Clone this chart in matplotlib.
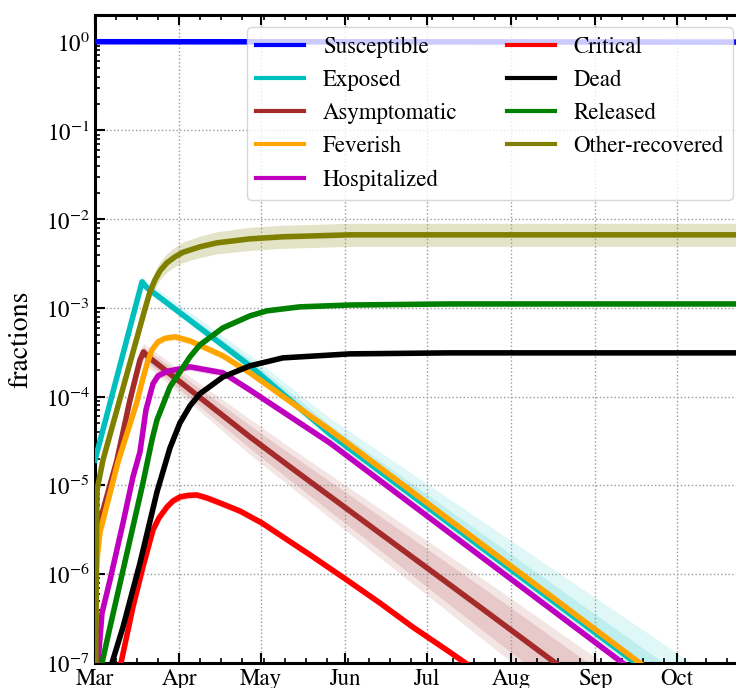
import numpy as np
import matplotlib
matplotlib.use("Agg")
import matplotlib.pyplot as plt
import matplotlib.dates as mdates
from matplotlib.ticker import AutoMinorLocator, LogLocator, NullFormatter
from matplotlib.lines import Line2D
from datetime import datetime

plt.rcParams['font.family'] = 'STIXGeneral'
plt.rcParams['mathtext.fontset'] = 'stix'
plt.rcParams['font.size'] = 16.5

# days since 1 March 2020, fractions of the population

sus_days = [0, 245]
sus_vals = [1.0, 0.99]

exp_days = [0, 17.3, 19.1, 57.0, 86.4, 222.5]
exp_vals = [1.94e-5, 1.97e-3, 1.69e-3, 2.23e-4, 3.81e-5, 2.88e-8]
exp_up_in = [0.02, 0.04, 0.04, 0.07, 0.10, 0.25]
exp_up_out = [0.03, 0.07, 0.07, 0.12, 0.18, 0.48]
exp_dn_in = [0.02, 0.03, 0.03, 0.03, 0.04, 0.06]
exp_dn_out = [0.03, 0.04, 0.04, 0.05, 0.06, 0.10]

asy_days = [0, 0.37, 0.92, 8.09, 12.87, 16.55, 17.83, 19.12, 57.0, 72.0, 141.6, 185.7]
asy_vals = [1e-9, 1.45e-6, 3.15e-6, 1.94e-5, 9.2e-5, 2.6e-4, 3.2e-4, 2.89e-4, 3.53e-5, 1.6e-5, 4.28e-7, 4.25e-8]
asy_in = [0.01, 0.02, 0.03, 0.05, 0.06, 0.06, 0.06, 0.07, 0.13, 0.15, 0.24, 0.28]
asy_out = [0.02, 0.04, 0.05, 0.08, 0.10, 0.10, 0.10, 0.11, 0.20, 0.22, 0.34, 0.40]

fev_days = [0, 0.37, 0.92, 1.84, 8.46, 15.44, 17.28, 19.12, 20.96, 23.17, 25.74, 29.42, 34.93,
            47.07, 57.0, 86.4, 222.5]
fev_vals = [1e-9, 8.6e-7, 1.65e-6, 2.99e-6, 1.84e-5, 8.75e-5, 1.47e-4, 2.34e-4, 3.37e-4, 4.15e-4,
            4.55e-4, 4.73e-4, 4.26e-4, 2.89e-4, 1.86e-4, 4.23e-5, 3.1e-8]

hos_days = [0, 1.1, 2.57, 5.52, 10.30, 13.97, 16.55, 18.75, 21.33, 23.2, 26.47, 34.93, 47.07, 57.0,
            86.4, 222.5]
hos_vals = [1e-9, 1.0e-7, 3.66e-7, 8.6e-7, 3.78e-6, 1.25e-5, 2.39e-5, 7.1e-5, 1.40e-4, 1.72e-4,
            1.93e-4, 2.17e-4, 1.86e-4, 1.19e-4, 3.02e-5, 2.22e-8]

cri_days = [0, 9.56, 13.97, 17.65, 21.33, 23.53, 26.47, 28.68, 31.25, 34.2, 37.5, 41.2, 45.96, 53.3,
            61.4, 80.2, 92.7, 104.8, 116.9, 129.4, 141.6]
cri_vals = [1e-10, 1.0e-7, 4.28e-7, 1.21e-6, 3.15e-6, 4.31e-6, 5.73e-6, 6.70e-6, 7.43e-6, 7.73e-6,
            7.82e-6, 7.24e-6, 6.36e-6, 5.16e-6, 3.78e-6, 1.57e-6, 8.6e-7, 4.75e-7, 2.54e-7, 1.40e-7, 7.7e-8]

dead_days = [0, 6.25, 10.30, 16.55, 22.8, 27.58, 31.25, 34.93, 38.6, 47.07, 57.0, 69.1, 93.8, 130.5, 245]
dead_vals = [1e-10, 1.0e-7, 2.54e-7, 1.34e-6, 8.46e-6, 2.65e-5, 5.07e-5, 7.88e-5, 1.08e-4, 1.67e-4,
             2.23e-4, 2.74e-4, 3.04e-4, 3.12e-4, 3.12e-4]

rel_days = [0, 2.57, 5.52, 11.77, 17.65, 20.96, 22.8, 27.58, 34.93, 38.6, 47.07, 57.0, 63.25, 75.4,
            93.8, 130.5, 245]
rel_vals = [1e-10, 1.0e-7, 2.54e-7, 1.74e-6, 1.07e-5, 3.26e-5, 5.48e-5, 1.29e-4, 2.81e-4, 3.84e-4,
            5.97e-4, 8.15e-4, 9.28e-4, 1.03e-3, 1.08e-3, 1.11e-3, 1.11e-3]

oth_days = [0, 0.48, 0.74, 2.94, 16.55, 18.38, 20.22, 22.06, 23.9, 26.47, 29.42, 32.36, 38.6, 44.86,
            57.0, 69.1, 93.8, 245]
oth_vals = [1e-9, 1.45e-6, 8.9e-6, 1.94e-5, 6.12e-4, 9.77e-4, 1.52e-3, 2.07e-3, 2.62e-3, 3.23e-3,
            3.77e-3, 4.24e-3, 4.89e-3, 5.42e-3, 6.01e-3, 6.34e-3, 6.67e-3, 6.67e-3]
oth_band = [0.01, 0.02, 0.03, 0.04, 0.08, 0.085, 0.09, 0.095, 0.10, 0.105, 0.11, 0.115, 0.12, 0.125,
            0.13, 0.13, 0.13, 0.13]

labels = ['Susceptible', 'Exposed', 'Asymptomatic', 'Feverish', 'Hospitalized',
          'Critical', 'Dead', 'Released', 'Other-recovered']
colors = ['b', 'c', 'brown', 'orange', 'm', 'r', 'k', 'g', 'olive']

t0 = mdates.date2num(datetime(2020, 3, 1))


def tx(days):
    return t0 + np.asarray(days, dtype=float)


def band(ax, days, vals, lo, hi, color, alpha):
    v = np.asarray(vals)
    ax.fill_between(tx(days), v * 10 ** (-np.asarray(lo)), v * 10 ** np.asarray(hi),
                    color=color, alpha=alpha, lw=0, zorder=1)


W, H = 736, 688
fig = plt.figure(figsize=(W / 100, H / 100), dpi=100)
ax = fig.add_axes([95 / W, 25 / H, 666 / W, 648 / H])

# uncertainty bands
band(ax, exp_days, exp_vals, exp_dn_in, exp_up_in, 'c', 0.15)
band(ax, exp_days, exp_vals, exp_dn_out, exp_up_out, 'c', 0.12)
band(ax, asy_days, asy_vals, asy_in, asy_in, 'brown', 0.15)
band(ax, asy_days, asy_vals, asy_out, asy_out, 'brown', 0.12)
band(ax, oth_days, oth_vals, oth_band, oth_band, 'olive', 0.22)
for d, v, c in [(fev_days, fev_vals, 'orange'), (hos_days, hos_vals, 'm'), (cri_days, cri_vals, 'r')]:
    w = [0.04] * len(d)
    band(ax, d, v, w, w, c, 0.15)

series = [(sus_days, sus_vals), (exp_days, exp_vals), (asy_days, asy_vals), (fev_days, fev_vals),
          (hos_days, hos_vals), (cri_days, cri_vals), (dead_days, dead_vals), (rel_days, rel_vals),
          (oth_days, oth_vals)]
for (d, v), c in zip(series, colors):
    ax.plot(tx(d), v, color=c, lw=4.0, zorder=3, solid_joinstyle='round')

ax.set_yscale('log')
ax.set_ylim(1e-7, 2.0)
ax.set_xlim(t0, t0 + 245)

ax.xaxis.set_major_locator(mdates.MonthLocator())
ax.xaxis.set_major_formatter(mdates.DateFormatter('%b'))
ax.xaxis.set_minor_locator(AutoMinorLocator(4))
ax.yaxis.set_major_locator(LogLocator(base=10, numticks=20))
ax.yaxis.set_minor_locator(LogLocator(base=10, subs=np.arange(2, 10), numticks=20))
ax.yaxis.set_minor_formatter(NullFormatter())

ax.tick_params(which='both', direction='in', top=True, right=True)
ax.tick_params(which='major', length=7, width=1.5, pad=4)
ax.tick_params(which='minor', length=3.5, width=1.2)
for s in ax.spines.values():
    s.set_linewidth(2.2)

ax.grid(True, which='major', ls=':', color='0.6', lw=1.0)
ax.set_ylabel('fractions', fontsize=20)
ax.yaxis.set_label_coords(-0.092, 0.5)

handles = [Line2D([], [], color=c, lw=3.0) for c in colors]
ax.legend(handles, labels, ncol=2, loc='upper right', bbox_to_anchor=(733 / W, 661 / H),
          bbox_transform=fig.transFigure, borderaxespad=0, handlelength=2.1,
          handletextpad=0.8, columnspacing=2.17, labelspacing=0.52, framealpha=0.8)

fig.savefig('out.png', dpi=100)
